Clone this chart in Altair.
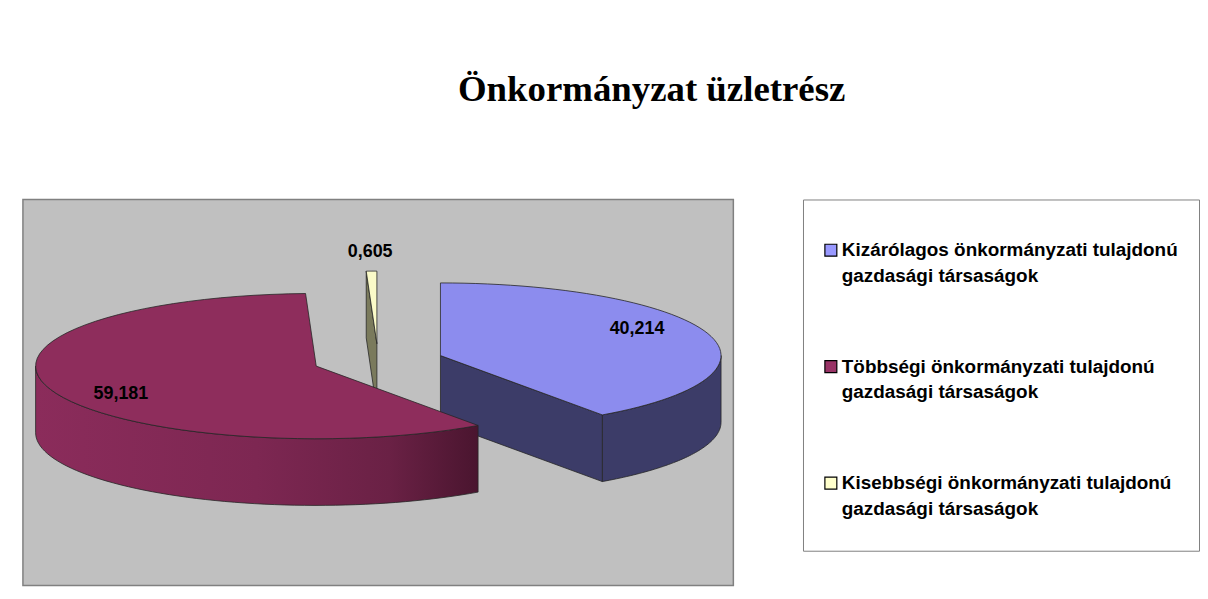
import altair as alt
import pandas as pd

# ---- data ----
categories = [
    "Kizárólagos önkormányzati tulajdonú gazdasági társaságok",
    "Többségi önkormányzati tulajdonú gazdasági társaságok",
    "Kisebbségi önkormányzati tulajdonú gazdasági társaságok",
]
legend_labels = [
    "Kizárólagos önkormányzati tulajdonú\ngazdasági társaságok",
    "Többségi önkormányzati tulajdonú\ngazdasági társaságok",
    "Kisebbségi önkormányzati tulajdonú\ngazdasági társaságok",
]
values = [40.214, 59.181, 0.605]

df = pd.DataFrame({"cat": categories, "label": legend_labels, "value": values})

# ---- layout / style constants ----
W, H = 714, 388            # plot area (pixels)
CX, CY = 357, 162          # pie centre inside the plot area
RX, RY = 282, 73           # ellipse radii of the tilted pie
DEPTH = 67                 # thickness of the pie
EXPLODE = 0.233            # explosion as a fraction of the radius
N = 60                     # points per arc
STROKE = "#262626"

styles = [
    {"top": "#8C8CEE", "side": "#3C3C68", "cut": "#3C3C68"},
    {"top": "#8E2D5C",
     "side": alt.LinearGradient(gradient="linear", x1=0, x2=1, y1=0, y2=0,
                                stops=[alt.GradientStop(offset=0, color="#8B2C5B"),
                                       alt.GradientStop(offset=0.5, color="#7D2752"),
                                       alt.GradientStop(offset=0.8, color="#6A2145"),
                                       alt.GradientStop(offset=1, color="#4A152F")]),
     "cut": "#5A1B3B"},
    {"top": "#FAFAC8", "side": "#8B8B6A", "cut": "#7A7A5C"},
]
legend_colors = ["#9999FF", "#993366", "#FFFFCC"]

X = alt.X("px:Q", scale=alt.Scale(domain=[0, W], nice=False, zero=False), axis=None)
Y = alt.Y("py:Q", scale=alt.Scale(domain=[0, H], nice=False, zero=False, reverse=True), axis=None)


def base():
    return (
        alt.Chart(df)
        .transform_joinaggregate(total="sum(value)")
        .transform_window(cum="sum(value)", frame=[None, 0])
        .transform_calculate(a1="2*PI*datum.cum/datum.total")
        .transform_calculate(a0="2*PI*(datum.cum-datum.value)/datum.total")
        .transform_calculate(mid="(datum.a0+datum.a1)/2")
        .transform_calculate(frac="datum.value/datum.total")
        .transform_calculate(cx=f"{CX}+{EXPLODE * RX}*sin(datum.mid)")
        .transform_calculate(cy=f"{CY}-{EXPLODE * RY}*cos(datum.mid)")
    )


def side_layer(i):
    return (
        base()
        .transform_filter(alt.datum.cat == categories[i])
        .transform_calculate(t0="max(datum.a0, PI/2)")
        .transform_calculate(t1="min(datum.a1, 3*PI/2)")
        .transform_filter("datum.t1 > datum.t0")
        .transform_calculate(pts=f"sequence(0, {2 * N + 3})")
        .transform_flatten(["pts"], ["k"])
        .transform_calculate(
            j=f"datum.k<={N} ? datum.k : (datum.k<={2 * N + 1} ? {2 * N + 1}-datum.k : 0)")
        .transform_calculate(t=f"datum.t0+(datum.t1-datum.t0)*datum.j/{N}")
        .transform_calculate(px=f"datum.cx+{RX}*sin(datum.t)")
        .transform_calculate(
            py=f"datum.cy-{RY}*cos(datum.t)+((datum.k>{N} && datum.k<={2 * N + 1}) ? {DEPTH} : 0)")
        .mark_line(fill=styles[i]["side"], stroke=STROKE, strokeWidth=0.8, strokeJoin="round")
        .encode(x=X, y=Y, order="k:Q", detail="cat:N")
    )


def cut_layer(i):
    return (
        base()
        .transform_filter(alt.datum.cat == categories[i])
        .transform_calculate(
            fa="sin(datum.a1) > 0.001 ? datum.a1 : (sin(datum.a0) < -0.001 ? datum.a0 : -1)")
        .transform_filter("datum.fa >= 0")
        .transform_calculate(pts="sequence(0, 5)")
        .transform_flatten(["pts"], ["k"])
        .transform_calculate(
            px=f"(datum.k==1||datum.k==2) ? datum.cx+{RX}*sin(datum.fa) : datum.cx")
        .transform_calculate(
            py=f"((datum.k==1||datum.k==2) ? datum.cy-{RY}*cos(datum.fa) : datum.cy)"
               f"+((datum.k==2||datum.k==3) ? {DEPTH} : 0)")
        .mark_line(fill=styles[i]["cut"], stroke=STROKE, strokeWidth=0.8, strokeJoin="round")
        .encode(x=X, y=Y, order="k:Q", detail="cat:N")
    )


def top_layer(i):
    return (
        base()
        .transform_filter(alt.datum.cat == categories[i])
        .transform_calculate(pts=f"sequence(0, {N + 3})")
        .transform_flatten(["pts"], ["k"])
        .transform_calculate(t=f"datum.a0+(datum.a1-datum.a0)*(datum.k-1)/{N}")
        .transform_calculate(
            px=f"(datum.k==0||datum.k=={N + 2}) ? datum.cx : datum.cx+{RX}*sin(datum.t)")
        .transform_calculate(
            py=f"(datum.k==0||datum.k=={N + 2}) ? datum.cy : datum.cy-{RY}*cos(datum.t)")
        .mark_line(fill=styles[i]["top"], stroke=STROKE, strokeWidth=0.8, strokeJoin="round")
        .encode(x=X, y=Y, order="k:Q", detail="cat:N")
    )


labels = (
    base()
    .transform_calculate(lf="datum.frac < 0.05 ? 1.26 : 0.735")
    .transform_calculate(lg="datum.frac < 0.05 ? 1.26 : 1.185")
    .transform_calculate(px=f"datum.cx+{RX}*sin(datum.mid)*datum.lf")
    .transform_calculate(py=f"datum.cy-{RY}*cos(datum.mid)*datum.lg")
    .transform_calculate(txt="replace(format(datum.value, '.3f'), '.', ',')")
    .mark_text(fontSize=18, fontWeight="bold", font="Liberation Sans", color="black",
               align="center", baseline="middle")
    .encode(x=X, y=Y, text="txt:N")
)

layers = []
for i in [2, 0, 1]:          # painter's order: back slice first
    layers += [side_layer(i), cut_layer(i), top_layer(i)]
layers.append(labels)

pie = alt.layer(*layers).properties(
    width=W, height=H,
    view=alt.ViewBackground(fill="#C0C0C0", stroke="#808080", strokeWidth=1.5),
)

# ---- legend panel ----
ly = alt.Y("cat:N", scale=alt.Scale(domain=categories, range=[51, 285], padding=0),
           axis=None, sort=None)
squares = alt.Chart(df).mark_square(size=144, stroke="black", strokeWidth=1.2, opacity=1).encode(
    x=alt.value(28), y=ly,
    fill=alt.Fill("cat:N", scale=alt.Scale(domain=categories, range=legend_colors), legend=None),
)
texts = alt.Chart(df).mark_text(
    align="left", baseline="middle", lineBreak="\n", lineHeight=26,
    fontSize=19, fontWeight="bold", font="Liberation Sans", color="black",
).encode(x=alt.value(39), y=ly, text="label:N")

legend_panel = alt.layer(squares, texts).properties(
    width=398, height=353,
    view=alt.ViewBackground(fill="white", stroke="#808080", strokeWidth=1),
)

chart = alt.hconcat(pie, legend_panel, spacing=68).properties(
    title=alt.Title("Önkormányzat üzletrész", font="Liberation Serif", fontSize=37,
                    fontWeight="bold", color="black", anchor="middle", dx=41, offset=90),
    padding={"left": 14, "top": 62, "right": 0, "bottom": 0},
    background="white",
)

chart.save("out.html", embed_options={"renderer": "svg", "actions": False})
